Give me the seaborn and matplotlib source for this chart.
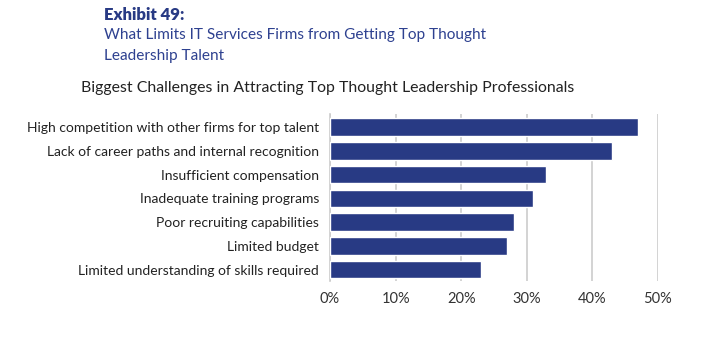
import matplotlib
matplotlib.use("Agg")
import matplotlib.pyplot as plt
import seaborn as sns
import pandas as pd

challenges = [
    "High competition with other firms for top talent",
    "Lack of career paths and internal recognition",
    "Insufficient compensation",
    "Inadequate training programs",
    "Poor recruiting capabilities",
    "Limited budget",
    "Limited understanding of skills required",
]
share_pct = [47, 43, 33, 31, 28, 27, 23]
x_ticks = [0, 10, 20, 30, 40, 50]
x_tick_labels = ["0%", "10%", "20%", "30%", "40%", "50%"]

exhibit_label = "Exhibit 49:"
exhibit_title = ["What Limits IT Services Firms from Getting Top Thought",
                 "Leadership Talent"]
chart_title = "Biggest Challenges in Attracting Top Thought Leadership Professionals"

sns.set_theme(style="white")
plt.rcParams["font.family"] = ["Lato", "DejaVu Sans"]

navy = "#283a84"
df = pd.DataFrame({"challenge": challenges, "share": share_pct})

fig = plt.figure(figsize=(7.06, 3.41), dpi=100)
ax = fig.add_axes([330 / 706, 1 - 281 / 341, 328 / 706, 167 / 341])

sns.barplot(data=df, x="share", y="challenge", color=navy, saturation=1,
            width=0.74, ax=ax, zorder=3)

ax.set_xlim(0, 50)
ax.set_ylim(6.48, -0.55)
ax.set_xticks(x_ticks)
ax.set_xticklabels(x_tick_labels)
ax.xaxis.grid(True, color="#cccccc", linewidth=1.2, zorder=0)
ax.yaxis.grid(False)
for side in ["top", "right", "bottom"]:
    ax.spines[side].set_visible(False)
ax.spines["left"].set_color("#cccccc")
ax.spines["left"].set_linewidth(1.2)
ax.tick_params(axis="x", length=0, pad=8, labelsize=10.5, labelcolor="#333333")
ax.tick_params(axis="y", length=0, pad=8, labelsize=10, labelcolor="#222222")
ax.set_xlabel("")
ax.set_ylabel("")

fig.text(104 / 706, 1 - 15 / 341, exhibit_label, fontsize=12, fontweight="heavy",
         color=navy, va="center", ha="left")
fig.text(104 / 706, 1 - 35 / 341, exhibit_title[0], fontsize=11.1,
         color="#2e4190", va="center", ha="left")
fig.text(104 / 706, 1 - 56 / 341, exhibit_title[1], fontsize=11.1,
         color="#2e4190", va="center", ha="left")
fig.text(81 / 706, 1 - 88 / 341, chart_title, fontsize=11.45,
         color="#222222", va="center", ha="left")

fig.savefig("out.png", dpi=100)
